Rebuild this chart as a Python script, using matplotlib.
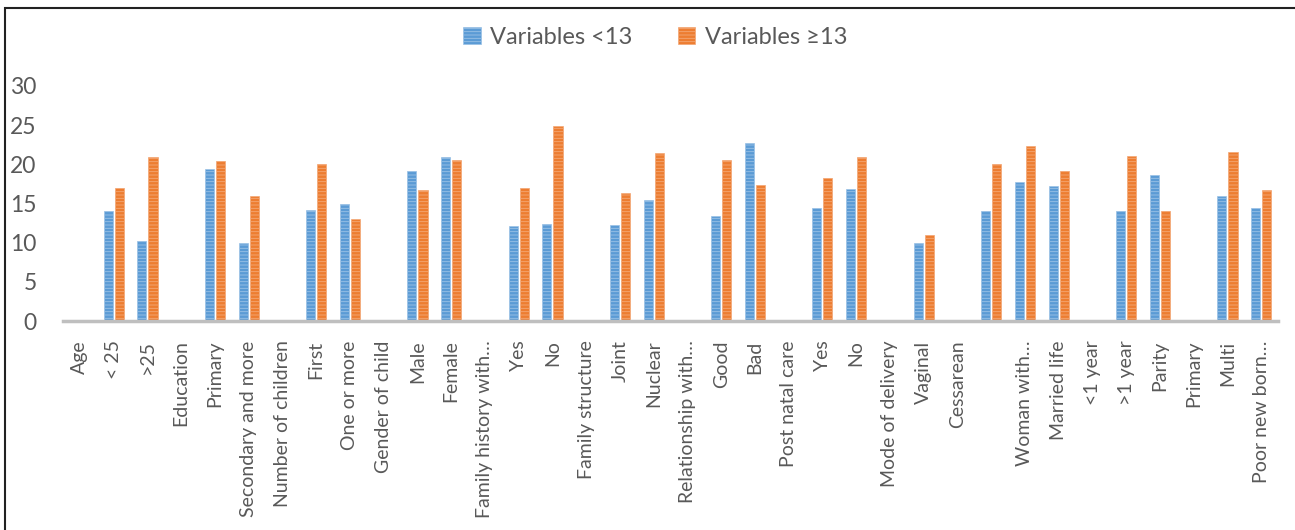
import numpy as np
import matplotlib.pyplot as plt
from matplotlib.patches import Rectangle

plt.rcParams['font.family'] = ['Lato', 'DejaVu Sans']
plt.rcParams['hatch.linewidth'] = 0.6

# categories along the x axis (headings have no bars)
categories = [
    "Age", "< 25", ">25", "Education", "Primary", "Secondary and more",
    "Number of children", "First", "One or more", "Gender of child", "Male",
    "Female", "Family history with…", "Yes", "No", "Family structure",
    "Joint", "Nuclear", "Relationship with…", "Good", "Bad",
    "Post natal care", "Yes", "No", "Mode of delivery", "Vaginal",
    "Cessarean", "", "Woman with…", "Married life", "<1 year", ">1 year",
    "Parity", "Primary", "Multi", "Poor new born…",
]

below_13 = [
    0, 14.0, 10.2, 0, 19.4, 10.0,
    0, 14.2, 15.0, 0, 19.1,
    21.0, 0, 12.1, 12.4, 0,
    12.3, 15.5, 0, 13.4, 22.7,
    0, 14.4, 16.9, 0, 10.0,
    0, 14.0, 17.7, 17.2, 0, 14.0,
    18.6, 0, 15.9, 14.4,
]

above_13 = [
    0, 17.0, 21.0, 0, 20.4, 16.0,
    0, 20.0, 13.0, 0, 16.7,
    20.5, 0, 17.0, 24.9, 0,
    16.3, 21.4, 0, 20.5, 17.4,
    0, 18.2, 21.0, 0, 11.0,
    0, 20.0, 22.4, 19.2, 0, 21.1,
    14.0, 0, 21.6, 16.7,
]

blue = '#5B9BD5'
orange = '#ED7D31'
grey_text = '#595959'

fig = plt.figure(figsize=(12.95, 5.30), dpi=100)
ax = fig.add_axes([63 / 1295, 1 - 321 / 530, (1278 - 63) / 1295, (321 - 86) / 530])

x = np.arange(len(categories))
w = 0.27
ax.bar(x - 0.165, below_13, width=w, color=blue, edgecolor='#9CC2E6',
       linewidth=0.5, hatch='-----', label='Variables <13')
ax.bar(x + 0.165, above_13, width=w, color=orange, edgecolor='#F3A877',
       linewidth=0.5, hatch='-----', label='Variables \u226513')

ax.set_xlim(-0.5, len(categories) - 0.5)
ax.set_ylim(0, 30)
ax.set_yticks(np.arange(0, 31, 5))
ax.tick_params(axis='y', length=0, pad=19, labelsize=16.5, labelcolor=grey_text)
ax.set_xticks(x)
ax.set_xticklabels(categories, rotation=90, fontsize=14, color=grey_text)
ax.tick_params(axis='x', length=0, pad=14)

for s in ['top', 'right', 'left']:
    ax.spines[s].set_visible(False)
ax.spines['bottom'].set_color('#BFBFBF')
ax.spines['bottom'].set_linewidth(2.5)

fig.legend(loc='center', bbox_to_anchor=(0.506, 0.93), ncol=2, frameon=False,
           fontsize=17, labelcolor=grey_text, handlelength=0.75, handleheight=0.75,
           columnspacing=1.9, handletextpad=0.4)

# outer frame around the chart
fig.patches.append(Rectangle((5 / 1295, -0.2), 1.2, 1.2 - 8 / 530,
                             transform=fig.transFigure, fill=False,
                             edgecolor='#222222', linewidth=1.5))

fig.savefig('out.png', dpi=100)
